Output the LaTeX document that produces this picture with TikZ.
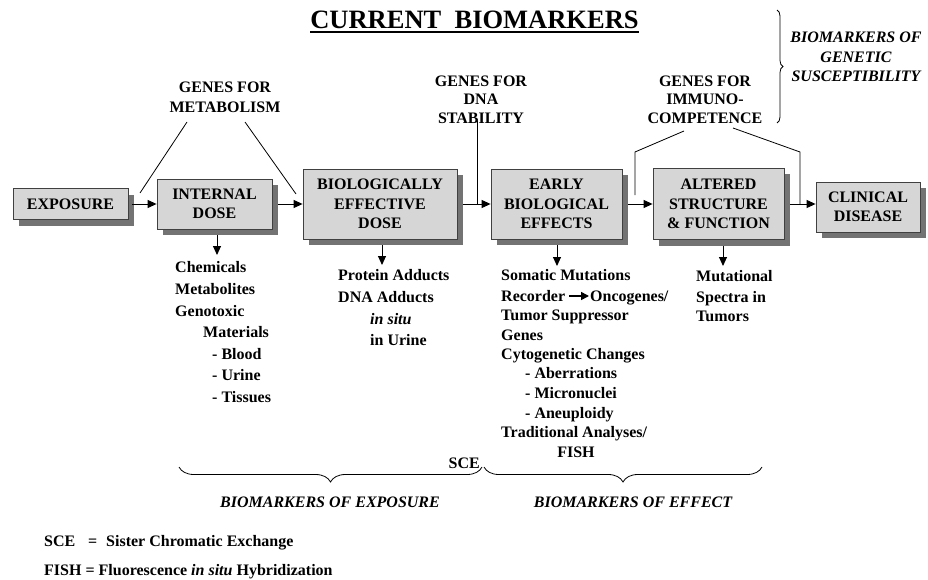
\documentclass[tikz,border=0pt]{standalone}
\usepackage{fontspec}
\setmainfont{Liberation Serif}
\usetikzlibrary{arrows.meta,shadows,decorations.pathreplacing}
\tikzset{
  txt/.style={inner sep=0pt, font=\fontsize{16}{19}\selectfont\bfseries},
  lbl/.style={txt, anchor=base west},
  ctr/.style={txt, anchor=base},
  box/.style={draw=black!75, line width=0.8pt, fill=black!16, inner sep=0pt,
    align=center, font=\fontsize{16}{19.5}\selectfont\bfseries,
    drop shadow={shadow xshift=6pt, shadow yshift=-6pt, fill=black!55, opacity=1}},
  arr/.style={line width=1pt, -{Triangle[length=9pt,width=8pt]}},
  ln/.style={line width=0.8pt},
  brc/.style={line width=0.8pt, decorate, decoration={brace, amplitude=15pt}},
  rbrc/.style={line width=0.8pt, decorate, decoration={brace, amplitude=6pt}}
}
\begin{document}
\begin{tikzpicture}[x=1pt,y=-1pt]
\path[use as bounding box, fill=white] (0,0) rectangle (928,580);

% title
\node[inner sep=0pt, anchor=base, font=\fontsize{26.5}{30}\selectfont\bfseries] (title) at (474.5,29) {CURRENT\ \ BIOMARKERS};
\draw[line width=1.3pt] ([yshift=-3pt]title.base west) -- ([yshift=-3pt]title.base east);

% genetic susceptibility
\draw[rbrc] (777,10) -- (777,123);
\node[ctr, font=\fontsize{16}{19}\selectfont\bfseries\itshape] (gs1) at (856,43) {BIOMARKERS OF};
\node[ctr, font=\fontsize{16}{19}\selectfont\bfseries\itshape] (gs2) at (856,63) {GENETIC};
\node[ctr, font=\fontsize{16}{19}\selectfont\bfseries\itshape] (gs3) at (856,82) {SUSCEPTIBILITY};

% genes labels
\node[ctr] (gm1) at (225,93) {GENES FOR};
\node[ctr] (gm2) at (225,113) {METABOLISM};
\node[ctr] (gd1) at (481,87) {GENES FOR};
\node[ctr] (gd2) at (481,105) {DNA};
\node[ctr] (gd3) at (481,124) {STABILITY};
\node[ctr] (gi1) at (705,87) {GENES FOR};
\node[ctr] (gi2) at (705,105) {IMMUNO-};
\node[ctr] (gi3) at (705,124) {COMPETENCE};

% boxes
\node[box, minimum width=115pt, minimum height=31pt] (exp) at (70.5,204) {EXPOSURE};
\node[box, minimum width=115pt, minimum height=50pt] (int) at (214.5,204) {INTERNAL\\DOSE};
\node[box, minimum width=154pt, minimum height=70pt] (bed) at (380,204) {BIOLOGICALLY\\EFFECTIVE\\DOSE};
\node[box, minimum width=131pt, minimum height=70pt] (ebe) at (556.5,204) {EARLY\\BIOLOGICAL\\EFFECTS};
\node[box, minimum width=131pt, minimum height=71pt] (asf) at (718.5,204) {ALTERED\\STRUCTURE\\\&{} FUNCTION};
\node[box, minimum width=104pt, minimum height=50pt] (cli) at (868,207) {CLINICAL\\DISEASE};

% horizontal arrows
\draw[arr, shorten <=4pt] (exp.east) -- (int.west);
\draw[arr, shorten <=6pt] (int.east) -- (bed.west);
\draw[arr, shorten <=6pt] (bed.east) -- (ebe.west);
\draw[arr, shorten <=6pt] (ebe.east) -- (asf.west);
\draw[arr, shorten <=6pt] (asf.east) -- (asf.east -| cli.west);

% gene lines
\coordinate (m0) at (187,122);
\coordinate (m1) at (140,193);
\coordinate (m2) at (245,122);
\coordinate (m3) at (296,194);
\draw[ln] (m0) -- (m1);
\draw[ln] (m2) -- (m3);
\coordinate (d0) at (477,121);
\coordinate (d1) at (477,204);
\draw[ln] (d0) -- (d1);
\coordinate (i0) at (684,131);
\coordinate (i1) at (635,152);
\coordinate (i2) at (635,195);
\coordinate (i3) at (733,128);
\coordinate (i4) at (800,152);
\coordinate (i5) at (800,204);
\draw[ln] (i0) -- (i1) -- (i2);
\draw[ln] (i3) -- (i4) -- (i5);

% down arrows
\coordinate (ti) at (217,255);
\coordinate (tb) at (382,265);
\coordinate (te) at (557,266);
\coordinate (ta) at (723,266);
\draw[arr, shorten <=6pt] (int.south -| ti) -- (ti);
\draw[arr, shorten <=6pt] (bed.south -| tb) -- (tb);
\draw[arr, shorten <=6pt] (ebe.south -| te) -- (te);
\draw[arr, shorten <=6pt] (asf.south -| ta) -- (ta);

% internal dose list
\node[lbl] (a1) at (175,272) {Chemicals};
\node[lbl] (a2) at (175,294) {Metabolites};
\node[lbl] (a3) at (175,316) {Genotoxic};
\node[lbl] (a4) at (203,337) {Materials};
\node[lbl] (a5) at (212,359) {- Blood};
\node[lbl] (a6) at (212,380) {- Urine};
\node[lbl] (a7) at (212,402) {- Tissues};

% BED list
\node[lbl] (b1) at (338,280) {Protein Adducts};
\node[lbl] (b2) at (338,302) {DNA Adducts};
\node[lbl] (b3) at (370,324) {\itshape in situ};
\node[lbl] (b4) at (370,345) {in Urine};

% EBE list
\node[lbl] (e1) at (501,280) {Somatic Mutations};
\node[lbl] (e2) at (501,301) {Recorder};
\node[lbl] (e2b) at (590,301) {Oncogenes/};
\draw[line width=1.6pt, -{Triangle[length=8pt,width=8pt]}] ([xshift=4pt,yshift=5pt]e2.base east) -- ([xshift=-1pt,yshift=5pt]e2b.base west);
\node[lbl] (e3) at (501,320) {Tumor Suppressor};
\node[lbl] (e4) at (501,340) {Genes};
\node[lbl] (e5) at (501,359) {Cytogenetic Changes};
\node[lbl] (e6) at (525,378) {- Aberrations};
\node[lbl] (e7) at (525,398) {- Micronuclei};
\node[lbl] (e8) at (525,418) {- Aneuploidy};
\node[lbl] (e9) at (501,437) {Traditional Analyses/};
\node[ctr] (e10) at (576,457) {FISH};

% ASF list
\node[lbl] (f1) at (696,281) {Mutational};
\node[lbl] (f2) at (696,302) {Spectra in};
\node[lbl] (f3) at (696,321) {Tumors};

% bottom braces
\node[txt, anchor=base east] (sce) at (480,468) {SCE};
\draw[brc] (482,467) -- (179,467);
\draw[brc] (762,467) -- (484,467);
\node[ctr, font=\fontsize{16}{19}\selectfont\bfseries\itshape] (bx) at (330,507) {BIOMARKERS OF EXPOSURE};
\node[ctr, font=\fontsize{16}{19}\selectfont\bfseries\itshape] (bf) at (633,507) {BIOMARKERS OF EFFECT};

% footnotes
\node[lbl] (n1) at (44,546) {SCE};
\node[lbl] (n2) at (88,546) {=};
\node[lbl] (n3) at (106,546) {Sister Chromatic Exchange};
\node[lbl] (n4) at (44,575) {FISH = Fluorescence \textit{in situ} Hybridization};
\end{tikzpicture}
\end{document}
